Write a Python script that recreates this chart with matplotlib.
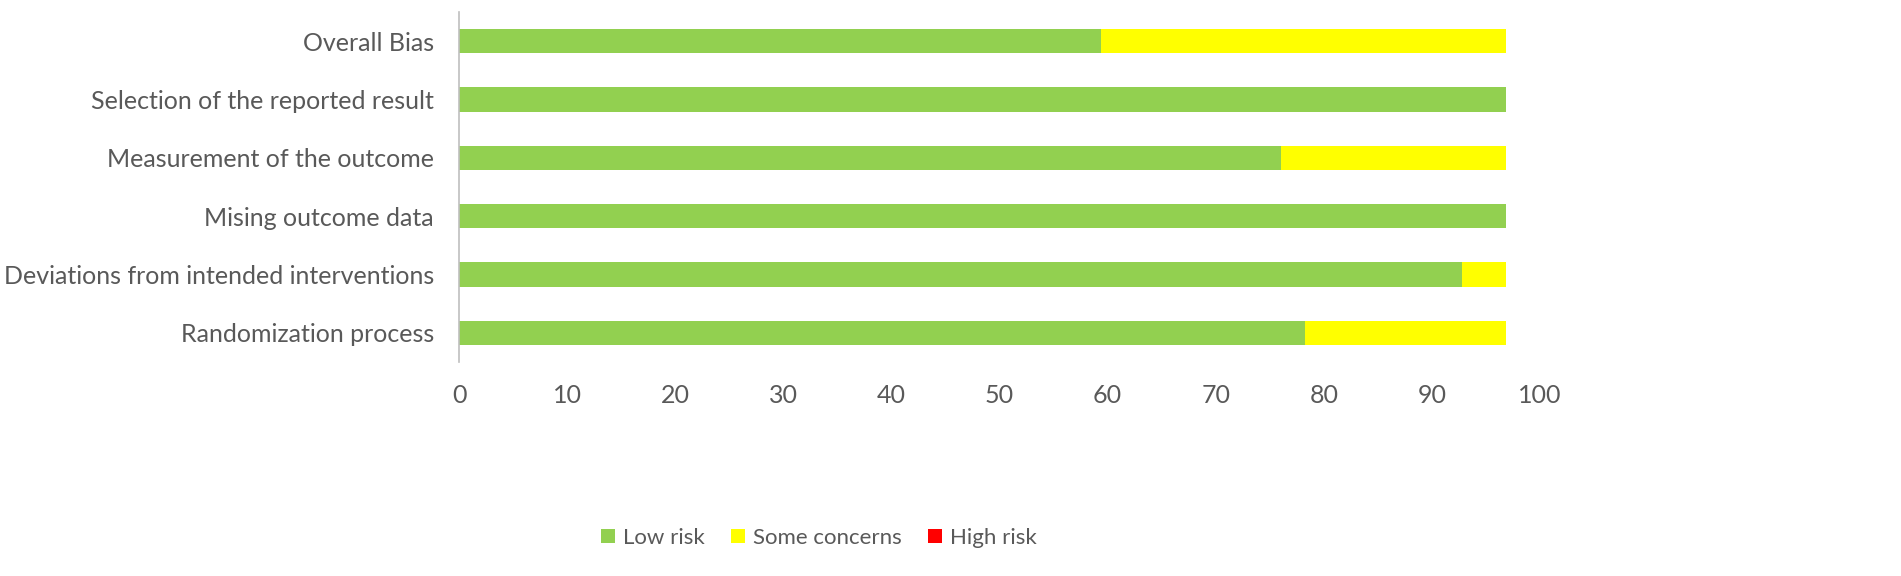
import matplotlib
matplotlib.use("Agg")
import matplotlib.pyplot as plt
from matplotlib.patches import Patch

categories = ["Randomization process", "Deviations from intended interventions",
              "Mising outcome data", "Measurement of the outcome",
              "Selection of the reported result", "Overall Bias"]
low_risk = [78.3, 92.8, 96.9, 76.0, 96.9, 59.4]
some_concerns = [18.6, 4.1, 0.0, 20.9, 0.0, 37.5]
high_risk = [0, 0, 0, 0, 0, 0]
series_names = ["Low risk", "Some concerns", "High risk"]
colors = ["#92D050", "#FFFF00", "#FF0000"]
xticks = list(range(0, 101, 10))

plt.rcParams['font.family'] = ['Lato', 'DejaVu Sans']
text_color = "#595959"

fig = plt.figure(figsize=(19.01, 5.76), dpi=100)
ax = fig.add_axes([459/1901, 1-362/576, (1540-459)/1901, (362-12)/576])

y = list(range(len(categories)))
h = 0.42
ax.barh(y, low_risk, height=h, color=colors[0])
left2 = low_risk
ax.barh(y, some_concerns, left=left2, height=h, color=colors[1])
left3 = [a + b for a, b in zip(low_risk, some_concerns)]
ax.barh(y, high_risk, left=left3, height=h, color=colors[2])

ax.set_xlim(0, 100)
ax.set_ylim(-0.5, len(categories) - 0.5)
ax.set_xticks(xticks)
ax.set_yticks(y)
ax.set_yticklabels(categories)
for s in ["top", "right", "bottom"]:
    ax.spines[s].set_visible(False)
ax.spines["left"].set_color("#BFBFBF")
ax.spines["left"].set_linewidth(1.2)
ax.tick_params(axis="both", length=0, labelsize=18, colors=text_color)
ax.tick_params(axis="x", pad=16)
ax.tick_params(axis="y", pad=18)

handles = [Patch(facecolor=c, edgecolor='none', label=n) for c, n in zip(colors, series_names)]
fig.legend(handles=handles, loc="center", bbox_to_anchor=(819/1901, 1-538/576), ncol=3,
           frameon=False, fontsize=16, handlelength=0.62, handleheight=0.62,
           handletextpad=0.35, columnspacing=1.2, labelcolor=text_color)

fig.savefig("out.png", dpi=100)
